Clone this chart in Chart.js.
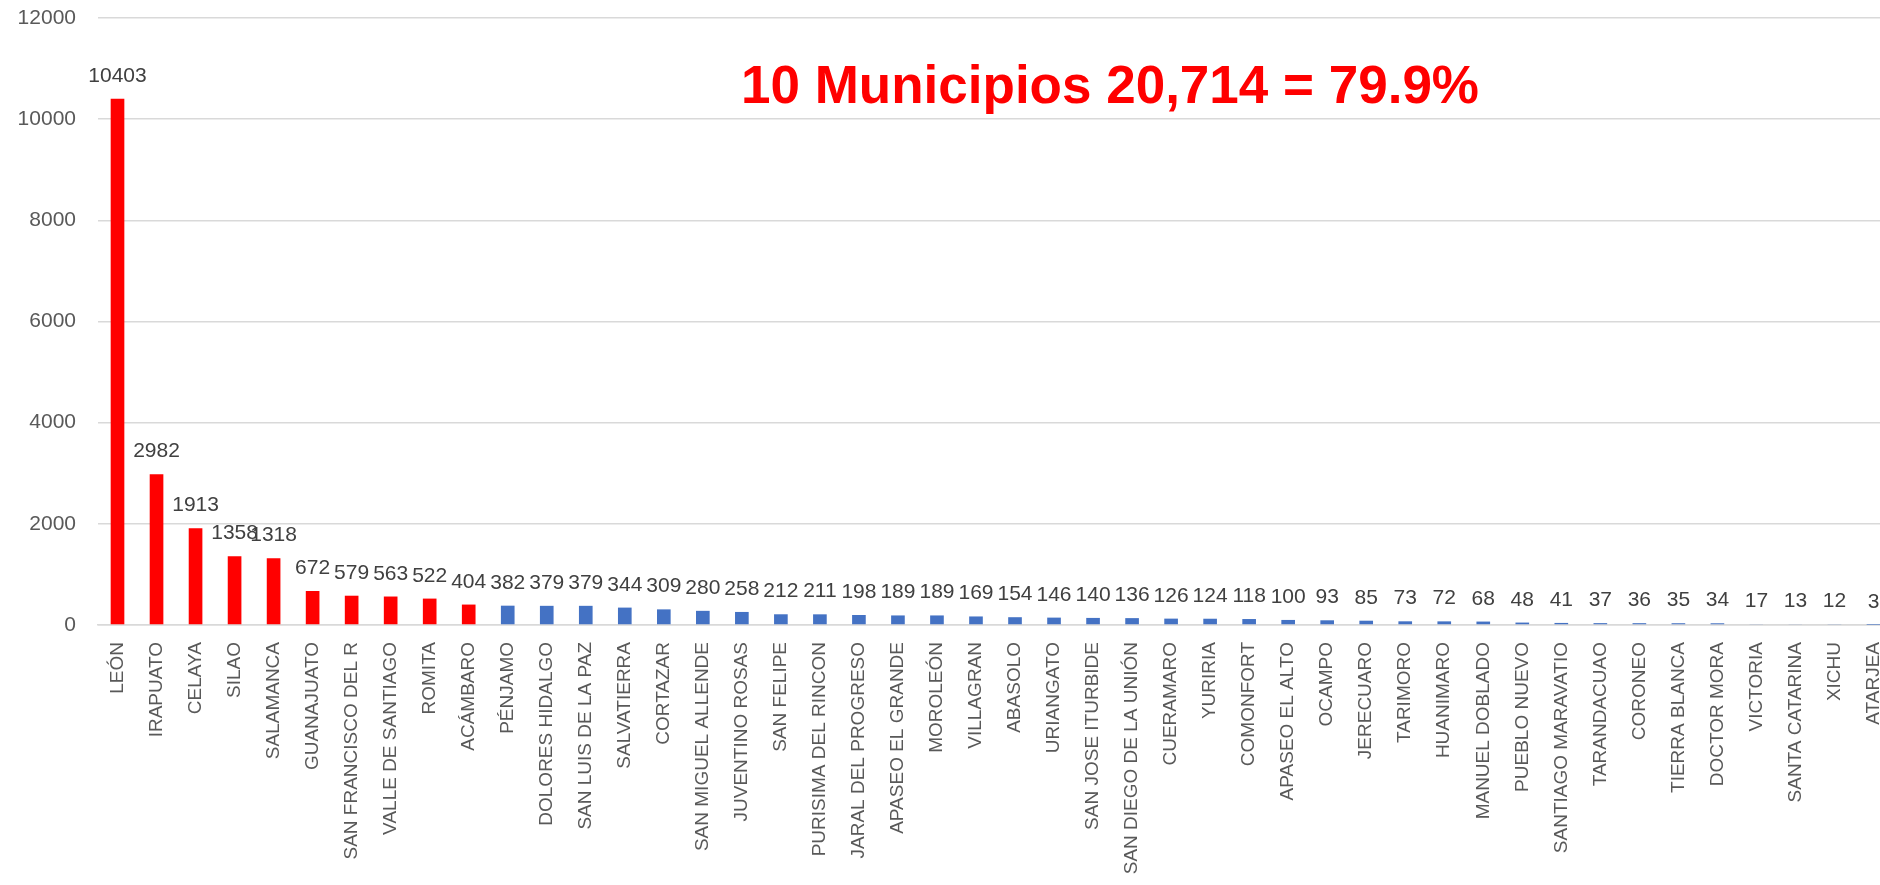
<!DOCTYPE html>
<html>
<head>
<meta charset="utf-8">
<script src="https://cdn.jsdelivr.net/npm/chart.js@4.4.0/dist/chart.umd.min.js"></script>
<style>
  html, body { margin: 0; padding: 0; background: #fff; overflow: hidden; }
  #wrap { position: relative; width: 1880px; height: 885px; overflow: hidden; }
  #chart { display: block; }
</style>
</head>
<body>
<div id="wrap"><canvas id="chart" width="1893" height="885"></canvas></div>
<script>
'use strict';
// municipios y casos, ordenados de mayor a menor
let municipios = ['LEÓN', 'IRAPUATO', 'CELAYA', 'SILAO', 'SALAMANCA', 'GUANAJUATO', 'SAN FRANCISCO DEL R',
  'VALLE DE SANTIAGO', 'ROMITA', 'ACÁMBARO', 'PÉNJAMO', 'DOLORES HIDALGO', 'SAN LUIS DE LA PAZ', 'SALVATIERRA',
  'CORTAZAR', 'SAN MIGUEL ALLENDE', 'JUVENTINO ROSAS', 'SAN FELIPE', 'PURISIMA DEL RINCON', 'JARAL DEL PROGRESO',
  'APASEO EL GRANDE', 'MOROLEÓN', 'VILLAGRAN', 'ABASOLO', 'URIANGATO', 'SAN JOSE ITURBIDE', 'SAN DIEGO DE LA UNIÓN',
  'CUERAMARO', 'YURIRIA', 'COMONFORT', 'APASEO EL ALTO', 'OCAMPO', 'JERECUARO', 'TARIMORO', 'HUANIMARO',
  'MANUEL DOBLADO', 'PUEBLO NUEVO', 'SANTIAGO MARAVATIO', 'TARANDACUAO', 'CORONEO', 'TIERRA BLANCA',
  'DOCTOR MORA', 'VICTORIA', 'SANTA CATARINA', 'XICHU', 'ATARJEA'];
let casos = [10403, 2982, 1913, 1358, 1318, 672, 579, 563, 522, 404, 382, 379, 379, 344, 309, 280, 258, 212,
  211, 198, 189, 189, 169, 154, 146, 140, 136, 126, 124, 118, 100, 93, 85, 73, 72, 68, 48, 41, 37, 36, 35, 34,
  17, 13, 12, 3];
let yTicks = [0, 2000, 4000, 6000, 8000, 10000, 12000];
let headline = '10 Municipios 20,714 = 79.9%';
let topCount = 10; // los primeros 10 van en rojo

let barColors = casos.map((v, i) => (i < topCount ? '#ff0000' : '#4472c4'));

// numeros encima de cada barra
let valueLabels = {
  id: 'valueLabels',
  afterDatasetsDraw(chart) {
    let ctx = chart.ctx;
    let meta = chart.getDatasetMeta(0);
    ctx.save();
    ctx.font = '21px "Liberation Sans"';
    ctx.fillStyle = '#404040';
    ctx.textAlign = 'center';
    ctx.textBaseline = 'alphabetic';
    meta.data.forEach((bar, i) => {
      ctx.fillText(String(casos[i]), bar.x, bar.y - 17);
    });
    ctx.restore();
  }
};

// el texto rojo grande
let headlinePlugin = {
  id: 'headline',
  afterDraw(chart) {
    let ctx = chart.ctx;
    ctx.save();
    ctx.font = 'bold 53px "Liberation Sans"';
    ctx.fillStyle = '#ff0000';
    ctx.textAlign = 'center';
    ctx.textBaseline = 'alphabetic';
    ctx.fillText(headline, 1110, 103);
    ctx.restore();
  }
};

let barChart = new Chart(document.getElementById('chart'), {
  type: 'bar',
  data: {
    labels: municipios,
    datasets: [{
      data: casos,
      backgroundColor: barColors,
      borderWidth: 0,
      barPercentage: 0.35,
      categoryPercentage: 1
    }]
  },
  options: {
    responsive: false,
    animation: false,
    layout: { padding: { top: 18, right: 0, bottom: 0, left: 0 } },
    plugins: {
      legend: { display: false },
      tooltip: { enabled: false }
    },
    scales: {
      x: {
        grid: { display: false, drawTicks: false },
        border: { display: true, color: '#d9d9d9', width: 1.5 },
        ticks: {
          autoSkip: false,
          minRotation: 90,
          maxRotation: 90,
          padding: 17,
          color: '#595959',
          font: { family: 'Liberation Sans', size: 19 }
        },
        afterFit(scale) {
          scale.height = 260;
          scale.paddingLeft = 0;
          scale.paddingRight = 0;
        }
      },
      y: {
        min: yTicks[0],
        max: yTicks[yTicks.length - 1],
        afterBuildTicks(scale) { scale.ticks = yTicks.map(v => ({ value: v })); },
        grid: { color: '#d9d9d9', lineWidth: 1.5, drawTicks: false },
        border: { display: false },
        ticks: {
          padding: 22,
          color: '#595959',
          font: { family: 'Liberation Sans', size: 21 },
          callback: (v) => String(v)
        },
        afterFit(scale) {
          scale.width = 98;
          // no dejar que el padding de las etiquetas empuje el area hacia abajo
          scale.paddingTop = 0;
          scale.paddingBottom = 0;
        }
      }
    }
  },
  plugins: [valueLabels, headlinePlugin]
});
</script>
</body>
</html>
